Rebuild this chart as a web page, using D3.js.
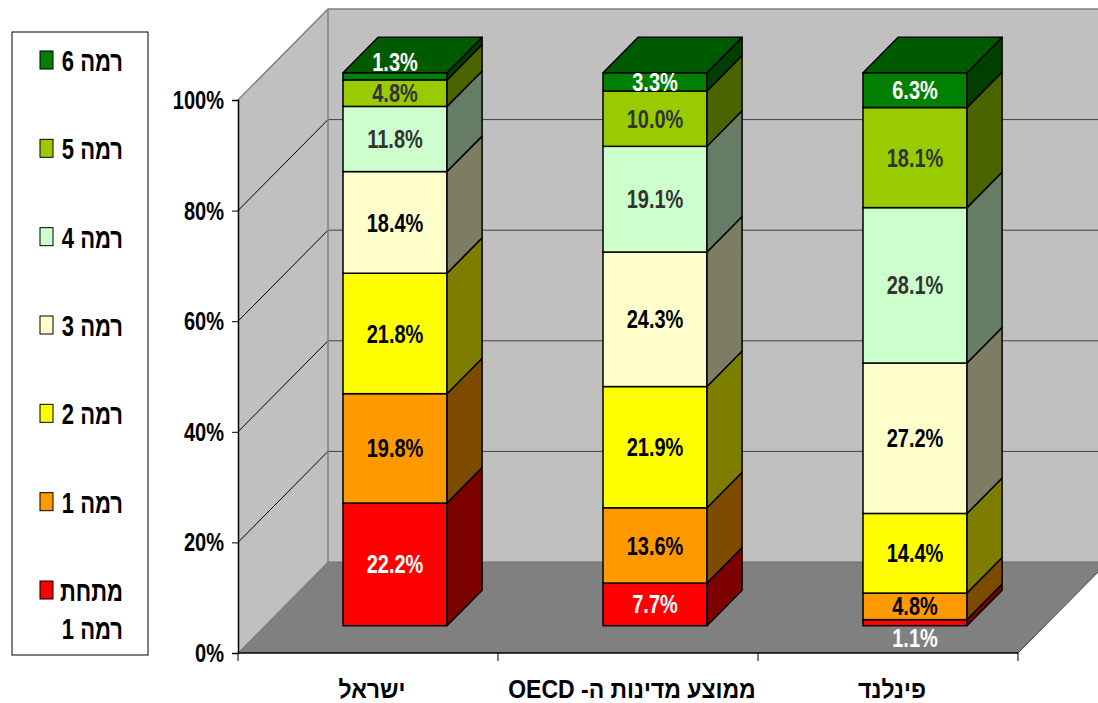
<!DOCTYPE html>
<html>
<head>
<meta charset="utf-8">
<script src="https://cdn.jsdelivr.net/npm/d3@7/dist/d3.min.js"></script>
<style>
  body { margin: 0; background: #fff; }
  svg text { font-family: "Liberation Sans", Arial, sans-serif; font-weight: bold; }
</style>
</head>
<body>
<div id="chart"></div>
<script>

/****************************** Data **********************************/

var categories = ["ישראל", "ממוצע מדינות ה- OECD", "פינלנד"];

var levelKeys = ["below1", "level1", "level2", "level3", "level4", "level5", "level6"];
var levelNames = ["מתחת רמה 1", "רמה 1", "רמה 2", "רמה 3", "רמה 4", "רמה 5", "רמה 6"];

var belowLevel1 = [22.2, 7.7, 1.1];
var level1 = [19.8, 13.6, 4.8];
var level2 = [21.8, 21.9, 14.4];
var level3 = [18.4, 24.3, 27.2];
var level4 = [11.8, 19.1, 28.1];
var level5 = [4.8, 10.0, 18.1];
var level6 = [1.3, 3.3, 6.3];

var yTicks = [0, 20, 40, 60, 80, 100];

/****************************** Styles **********************************/

var colors = {
  below1: "#ff0000", level1: "#ff9900", level2: "#ffff00", level3: "#ffffcc",
  level4: "#ccffcc", level5: "#99cc00", level6: "#008000"
};
var labelColors = {
  below1: "#ffffff", level1: "#000000", level2: "#000000", level3: "#000000",
  level4: "#333333", level5: "#333333", level6: "#ffffff"
};

var width = 1098, height = 703;
var plot = { left: 238, right: 1018, top: 100, bottom: 653 };
var depth = { dx: 90, dy: 91 };
var barFront = 0.3, barBack = 0.69;   // bar position inside the floor depth
var stretch = 1.3;                    // text is taller than wide in the original

var series = [belowLevel1, level1, level2, level3, level4, level5, level6];
var rows = categories.map(function(c, i) {
  var r = { category: c };
  levelKeys.forEach(function(k, j) { r[k] = series[j][i]; });
  return r;
});

var stacked = d3.stack().keys(levelKeys).offset(d3.stackOffsetExpand)(rows);

var x = d3.scaleBand()
  .domain(categories)
  .range([plot.left, plot.right])
  .paddingInner(0.6)
  .paddingOuter(0.3);

var y = d3.scaleLinear()
  .domain([0, 1])
  .range([plot.bottom, plot.top]);

// project a point of the front plane back by a fraction f of the depth
function pt(px, py, f) {
  return [px + f * depth.dx, py - f * depth.dy];
}
function poly(points) {
  return points.map(function(p) { return p.join(","); }).join(" ");
}

var svg = d3.select("#chart")
  .append("svg")
  .attr("width", width)
  .attr("height", height);

svg.append("rect")
  .attr("width", width)
  .attr("height", height)
  .attr("fill", "#ffffff");

/****************************** Walls **********************************/

var walls = svg.append("g");
var farRight = width + depth.dx;

walls.append("polygon")
  .attr("points", poly([pt(plot.left, y(1), 1), [farRight, pt(0, y(1), 1)[1]], [farRight, pt(0, y(0), 1)[1]], pt(plot.left, y(0), 1)]))
  .attr("fill", "#c0c0c0");

walls.append("polygon")
  .attr("points", poly([pt(plot.left, y(1), 0), pt(plot.left, y(1), 1), pt(plot.left, y(0), 1), pt(plot.left, y(0), 0)]))
  .attr("fill", "#c0c0c0");

walls.append("polygon")
  .attr("points", poly([pt(plot.left, y(0), 0), pt(plot.right, y(0), 0), pt(plot.right, y(0), 1), pt(plot.left, y(0), 1)]))
  .attr("fill", "#808080");

// gridlines
yTicks.filter(function(t) { return t > 0 && t < 100; }).forEach(function(t) {
  var v = t / 100;
  var a = pt(plot.left, y(v), 1);
  walls.append("line")
    .attr("x1", a[0]).attr("y1", a[1])
    .attr("x2", farRight).attr("y2", a[1])
    .attr("stroke", "#404040")
    .attr("stroke-width", 1);
  var b = pt(plot.left, y(v), 0);
  walls.append("line")
    .attr("x1", b[0]).attr("y1", b[1])
    .attr("x2", a[0]).attr("y2", a[1])
    .attr("stroke", "#000000")
    .attr("stroke-width", 1);
});

// wall edges
var backTop = pt(plot.left, y(1), 1), backBottom = pt(plot.left, y(0), 1);
walls.append("line")
  .attr("x1", backTop[0]).attr("y1", backTop[1])
  .attr("x2", backBottom[0]).attr("y2", backBottom[1])
  .attr("stroke", "#808080").attr("stroke-width", 1.5);
walls.append("polyline")
  .attr("points", poly([pt(plot.left, y(1), 0), backTop, [farRight, backTop[1]]]))
  .attr("fill", "none")
  .attr("stroke", "#808080").attr("stroke-width", 1.5);
walls.append("polyline")
  .attr("points", poly([pt(plot.left, y(0), 0), backBottom, [farRight, backBottom[1]]]))
  .attr("fill", "none")
  .attr("stroke", "#707070").attr("stroke-width", 1);
walls.append("line")
  .attr("x1", plot.right).attr("y1", y(0))
  .attr("x2", pt(plot.right, y(0), 1)[0]).attr("y2", pt(plot.right, y(0), 1)[1])
  .attr("stroke", "#404040").attr("stroke-width", 1);

/****************************** Axes **********************************/

var yAxis = d3.axisLeft(y)
  .tickValues(yTicks.map(function(t) { return t / 100; }))
  .tickFormat(d3.format(".0%"))
  .tickSize(6)
  .tickPadding(8);

var yAxisG = svg.append("g")
  .attr("transform", "translate(" + plot.left + ",0)")
  .call(yAxis);
yAxisG.select(".domain").attr("stroke", "#000").attr("stroke-width", 1.5);
yAxisG.selectAll(".tick line").attr("stroke", "#000");
yAxisG.selectAll(".tick text")
  .attr("fill", "#000")
  .attr("font-size", 20)
  .attr("font-family", null)
  .attr("transform", "scale(1," + stretch + ")")
  .attr("dy", "0.33em");

svg.append("line")
  .attr("x1", plot.left).attr("y1", y(0))
  .attr("x2", plot.right).attr("y2", y(0))
  .attr("stroke", "#000").attr("stroke-width", 1.5);

var boundaries = d3.range(categories.length + 1).map(function(i) {
  return plot.left + i * x.step();
});
svg.selectAll(".xtick")
  .data(boundaries)
  .enter()
  .append("line")
  .attr("class", "xtick")
  .attr("x1", function(d) { return d; })
  .attr("x2", function(d) { return d; })
  .attr("y1", y(0))
  .attr("y2", y(0) + 8)
  .attr("stroke", "#000");

svg.selectAll(".catlabel")
  .data(categories)
  .enter()
  .append("text")
  .attr("class", "catlabel")
  .attr("direction", "rtl")
  .attr("text-anchor", "middle")
  .attr("font-size", 23)
  .attr("dy", "0.35em")
  .attr("transform", function(d) {
    return "translate(" + (x(d) + x.bandwidth() / 2 + 4) + "," + (y(0) + 36) + ") scale(1,1.1)";
  })
  .text(function(d) { return d; });

/****************************** Bars **********************************/

var bars = svg.append("g");
var sideDx = (barBack - barFront) * depth.dx, sideDy = (barBack - barFront) * depth.dy;

stacked.forEach(function(s, si) {
  var key = s.key;
  s.forEach(function(d, ci) {
    var cat = categories[ci];
    var fl = pt(x(cat), y(d[1]), barFront);
    var xl = fl[0], xr = xl + x.bandwidth();
    var yt = fl[1], yb = pt(0, y(d[0]), barFront)[1];

    bars.append("rect")
      .attr("x", xl).attr("y", yt)
      .attr("width", xr - xl).attr("height", yb - yt)
      .attr("fill", colors[key])
      .attr("stroke", "#000").attr("stroke-width", 1.5);

    bars.append("polygon")
      .attr("points", poly([[xr, yb], [xr + sideDx, yb - sideDy], [xr + sideDx, yt - sideDy], [xr, yt]]))
      .attr("fill", d3.color(colors[key]).darker(2))
      .attr("stroke", "#000").attr("stroke-width", 1.5)
      .attr("stroke-linejoin", "round");

    if (si === stacked.length - 1) {
      bars.append("polygon")
        .attr("points", poly([[xl, yt], [xl + sideDx, yt - sideDy], [xr + sideDx, yt - sideDy], [xr, yt]]))
        .attr("fill", d3.color(colors[key]).darker(1))
        .attr("stroke", "#000").attr("stroke-width", 1.5)
        .attr("stroke-linejoin", "round");
    }
  });
});

// data labels
var fmt = function(v) { return v.toFixed(1) + "%"; };
stacked.forEach(function(s, si) {
  var key = s.key;
  s.forEach(function(d, ci) {
    var cat = categories[ci];
    var value = series[si][ci];
    var cx = pt(x(cat) + x.bandwidth() / 2, 0, barFront)[0];
    var yt = pt(0, y(d[1]), barFront)[1], yb = pt(0, y(d[0]), barFront)[1];
    var cy = (yt + yb) / 2;
    if (value < 2 && si === stacked.length - 1) cy = yt - 11;
    else if (value < 2 && si === 0) cy = yb + 12;
    bars.append("text")
      .attr("text-anchor", "middle")
      .attr("font-size", 20)
      .attr("dy", "0.35em")
      .attr("fill", labelColors[key])
      .attr("transform", "translate(" + cx + "," + cy + ") scale(1," + stretch + ")")
      .text(fmt(value));
  });
});

/****************************** Legend **********************************/

var legend = svg.append("g");
legend.append("rect")
  .attr("x", 12).attr("y", 32)
  .attr("width", 136).attr("height", 623)
  .attr("fill", "#fff")
  .attr("stroke", "#000").attr("stroke-width", 1);

var legendY = d3.scalePoint()
  .domain(levelKeys.slice().reverse())
  .range([60, 590]);

levelKeys.forEach(function(k, i) {
  var ly = legendY(k);
  legend.append("rect")
    .attr("x", 40).attr("y", ly - 9)
    .attr("width", 13).attr("height", 18)
    .attr("fill", colors[k])
    .attr("stroke", "#000").attr("stroke-width", 1);
  var name = levelNames[i];
  var lines = k === "below1" ? [name.slice(0, name.indexOf(" ")), name.slice(name.indexOf(" ") + 1)] : [name];
  lines.forEach(function(line, li) {
    legend.append("text")
      .attr("text-anchor", "end")
      .attr("font-size", 22)
      .attr("dy", "0.35em")
      .attr("fill", "#000")
      .attr("transform", "translate(123," + (ly + 1 + li * 38) + ") scale(1," + stretch + ")")
      .text(line);
  });
});

</script>
</body>
</html>
